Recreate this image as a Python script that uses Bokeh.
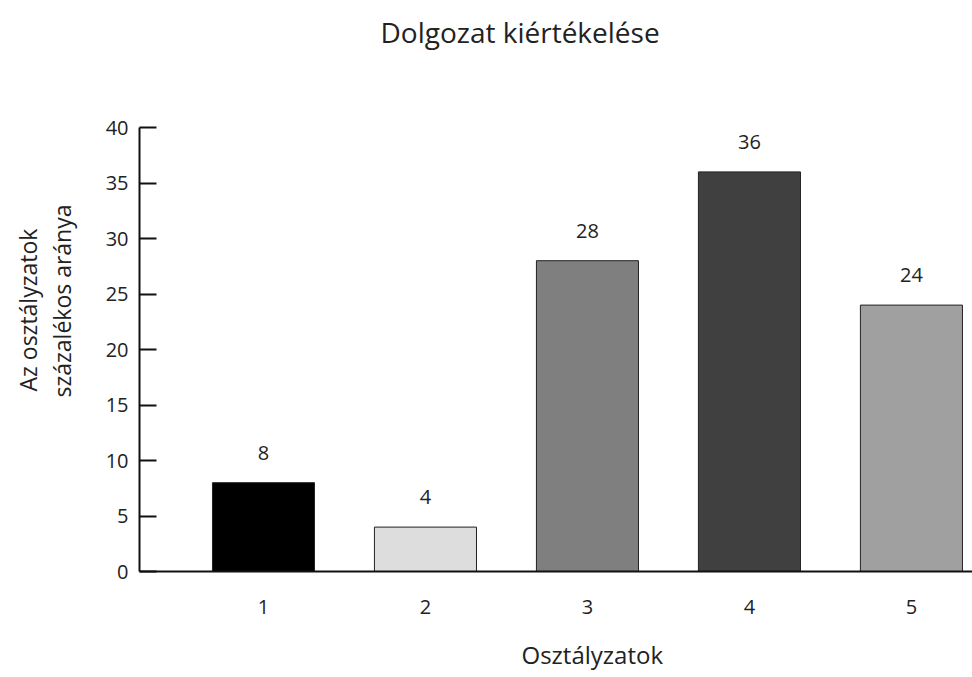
from bokeh.plotting import figure
from bokeh.models import Range1d, FixedTicker, ColumnDataSource, Title
from bokeh.core.properties import value
from bokeh.embed import file_html
from bokeh.resources import INLINE

grades = [1, 2, 3, 4, 5]
percents = [8, 4, 28, 36, 24]
bar_colors = ["#000000", "#dddddd", "#7f7f7f", "#404040", "#a0a0a0"]
y_ticks = [0, 5, 10, 15, 20, 25, 30, 35, 40]
title_text = "Dolgozat kiértékelése"
x_title = "Osztályzatok"
y_title_lines = ["Az osztályzatok", "százalékos aránya"]

FONT = "Open Sans"
TXT = "#222222"

p = figure(width=972, height=677, output_backend="svg", toolbar_location=None,
           x_range=Range1d(0.2346, 5.377), y_range=Range1d(0, 40),
           min_border_left=139, min_border_top=127, min_border_bottom=106,
           min_border_right=0)
p.outline_line_color = None
p.xgrid.visible = False
p.ygrid.visible = False
p.title.text = ""

src = ColumnDataSource(dict(x=grades, top=percents, color=bar_colors,
                            label=[str(v) for v in percents]))
p.vbar(x="x", top="top", bottom=0, width=0.63, source=src,
       fill_color="color", line_color="#222222", line_width=1)
p.text(x="x", y="top", text="label", source=src, y_offset=-30,
       text_align="center", text_baseline="middle",
       text_font=value(FONT), text_font_size="20px", text_color=TXT)

# y axis
ya = p.yaxis[0]
ya.ticker = FixedTicker(ticks=y_ticks)
ya.axis_line_width = 2
ya.axis_line_color = "#111111"
ya.major_tick_in = 17
ya.major_tick_out = 0
ya.major_tick_line_width = 2
ya.major_tick_line_color = "#111111"
ya.minor_tick_line_color = None
ya.major_label_text_font = FONT
ya.major_label_text_font_size = "20px"
ya.major_label_text_color = TXT
ya.major_label_standoff = 11

# x axis
xa = p.xaxis[0]
xa.ticker = FixedTicker(ticks=grades)
xa.axis_line_width = 2
xa.axis_line_color = "#111111"
xa.major_tick_in = 0
xa.major_tick_out = 0
xa.minor_tick_line_color = None
xa.major_label_text_font = FONT
xa.major_label_text_font_size = "20px"
xa.major_label_text_color = TXT
xa.major_label_standoff = 28


def spacer(px):
    # blank layout panel used only to reserve space
    return Title(text=" ", text_font_size="1px", standoff=px)


def title(text, size, offset, standoff=0):
    return Title(text=text, align="left", offset=offset, standoff=standoff,
                 text_font=FONT, text_font_size=size,
                 text_font_style="normal", text_color=TXT)


# chart title (above the frame)
p.add_layout(spacer(74), "above")
p.add_layout(title(title_text, "28px", 241), "above")

# x axis title
p.add_layout(spacer(16), "below")
p.add_layout(title(x_title, "24px", 382), "below")

# y axis title: two lines, nearest to the axis first
p.add_layout(spacer(22), "left")
p.add_layout(title(y_title_lines[1], "23px", 174), "left")
p.add_layout(title(y_title_lines[0], "23px", 180), "left")

open("out.html", "w").write(file_html(p, INLINE))
